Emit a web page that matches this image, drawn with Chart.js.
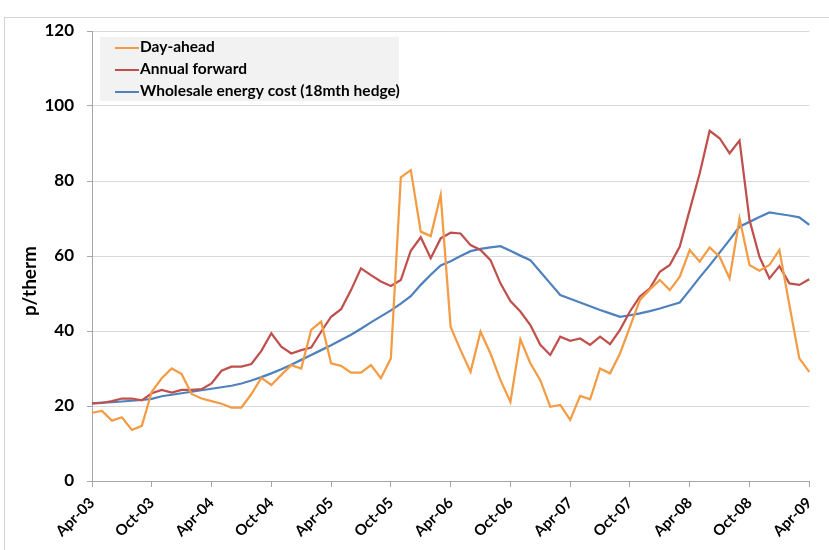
<!DOCTYPE html>
<html>
<head>
<meta charset="utf-8">
<script src="https://cdn.jsdelivr.net/npm/chart.js@4.4.1/dist/chart.umd.min.js"></script>
<style>
  html, body { margin: 0; padding: 0; background: #fff; }
  #wrap { position: relative; width: 829px; height: 550px; }
</style>
</head>
<body>
<div id="wrap"><canvas id="chart" width="829" height="550"></canvas></div>
<script>
// monthly categories, Apr-03 .. Apr-09
const months = [
  'Apr-03','May-03','Jun-03','Jul-03','Aug-03','Sep-03','Oct-03','Nov-03','Dec-03','Jan-04','Feb-04','Mar-04',
  'Apr-04','May-04','Jun-04','Jul-04','Aug-04','Sep-04','Oct-04','Nov-04','Dec-04','Jan-05','Feb-05','Mar-05',
  'Apr-05','May-05','Jun-05','Jul-05','Aug-05','Sep-05','Oct-05','Nov-05','Dec-05','Jan-06','Feb-06','Mar-06',
  'Apr-06','May-06','Jun-06','Jul-06','Aug-06','Sep-06','Oct-06','Nov-06','Dec-06','Jan-07','Feb-07','Mar-07',
  'Apr-07','May-07','Jun-07','Jul-07','Aug-07','Sep-07','Oct-07','Nov-07','Dec-07','Jan-08','Feb-08','Mar-08',
  'Apr-08','May-08','Jun-08','Jul-08','Aug-08','Sep-08','Oct-08','Nov-08','Dec-08','Jan-09','Feb-09','Mar-09',
  'Apr-09'
];

const dayAhead = [
  18.2, 18.7, 16.1, 17.0, 13.6, 14.7, 23.8, 27.4, 30.0, 28.5, 23.2, 22.0,
  21.3, 20.6, 19.6, 19.6, 23.2, 27.5, 25.6, 28.3, 30.9, 30.0, 40.3, 42.5,
  31.4, 30.7, 28.9, 28.9, 30.9, 27.4, 32.7, 81.0, 82.9, 66.5, 65.3, 76.3,
  41.1, 34.9, 29.1, 39.8, 34.0, 26.9, 21.1, 37.8, 31.4, 26.9, 19.8, 20.3,
  16.3, 22.7, 21.8, 30.0, 28.7, 34.0, 41.1, 48.3, 51.1, 53.6, 50.9, 54.5,
  61.6, 58.5, 62.3, 59.8, 54.0, 70.0, 57.6, 56.1, 57.6, 61.6, 47.0, 32.7,
  29.1
];

const annualForward = [
  20.7, 20.8, 21.3, 22.0, 22.0, 21.5, 23.4, 24.3, 23.6, 24.3, 24.3, 24.5,
  26.0, 29.4, 30.5, 30.5, 31.2, 34.7, 39.4, 35.8, 34.0, 34.9, 35.6, 39.8,
  43.8, 45.8, 50.9, 56.7, 54.9, 53.2, 52.0, 53.6, 61.4, 65.0, 59.4, 64.7,
  66.2, 66.0, 62.9, 61.6, 58.9, 52.7, 48.0, 45.2, 41.6, 36.3, 33.6, 38.5,
  37.4, 38.0, 36.3, 38.5, 36.5, 40.3, 45.2, 49.2, 51.4, 55.8, 57.6, 62.5,
  72.3, 82.0, 93.4, 91.4, 87.4, 90.8, 69.6, 59.8, 54.0, 57.3, 52.7, 52.3,
  53.8
];

const wholesaleCost = [
  20.7, 20.9, 21.0, 21.2, 21.4, 21.6, 21.9, 22.6, 23.0, 23.4, 23.8, 24.2,
  24.6, 25.0, 25.4, 26.0, 26.8, 27.7, 28.7, 29.8, 31.0, 32.3, 33.6, 34.9,
  36.2, 37.6, 39.0, 40.6, 42.3, 43.9, 45.5, 47.3, 49.3, 52.3, 55.0, 57.5,
  58.6, 60.0, 61.3, 61.9, 62.3, 62.6, 61.4, 60.1, 58.9, 55.8, 52.7, 49.6,
  48.6, 47.6, 46.6, 45.6, 44.7, 43.8, 44.2, 44.7, 45.3, 46.0, 46.8, 47.6,
  50.9, 54.3, 57.5, 60.9, 64.3, 67.8, 69.1, 70.4, 71.6, 71.2, 70.8, 70.3,
  68.3
];

const yTicks = [0, 20, 40, 60, 80, 100, 120];
const seriesNames = ['Day-ahead', 'Annual forward', 'Wholesale energy cost (18mth hedge)'];
const seriesColors = ['#F39C45', '#C0504D', '#4F81BD'];
const yTitle = 'p/therm';

Chart.defaults.font.family = 'Lato, "Open Sans", sans-serif';
Chart.defaults.color = '#000';

// outer frame, axis title and the boxed legend inside the plot
const decorations = {
  id: 'decorations',
  beforeDraw(chart) {
    const ctx = chart.ctx;
    ctx.save();
    ctx.strokeStyle = '#d4d4d4';
    ctx.lineWidth = 1;
    ctx.strokeRect(4.5, 17.5, 840, 540);
    ctx.restore();
  },
  afterDraw(chart) {
    const ctx = chart.ctx;
    ctx.save();
    // y axis title
    ctx.translate(30, 281);
    ctx.rotate(-Math.PI / 2);
    ctx.font = 'bold 19px Lato, "Open Sans", sans-serif';
    ctx.fillStyle = '#000';
    ctx.textAlign = 'center';
    ctx.textBaseline = 'middle';
    ctx.fillText(yTitle, 0, 0);
    ctx.restore();

    // legend
    ctx.save();
    ctx.fillStyle = '#f2f2f2';
    ctx.fillRect(100, 37, 299, 64);
    ctx.font = 'bold 15.5px Lato, "Open Sans", sans-serif';
    ctx.textBaseline = 'middle';
    chart.data.datasets.forEach((ds, i) => {
      const y = 47 + i * 22;
      ctx.strokeStyle = ds.borderColor;
      ctx.lineWidth = 2;
      ctx.beginPath();
      ctx.moveTo(115, y + 1);
      ctx.lineTo(139, y + 1);
      ctx.stroke();
      ctx.fillStyle = '#000';
      ctx.fillText(ds.label, 140, y);
    });
    ctx.restore();
  }
};

const datasets = [dayAhead, annualForward, wholesaleCost].map((vals, i) => ({
  label: seriesNames[i],
  data: vals,
  borderColor: seriesColors[i],
  backgroundColor: seriesColors[i],
  borderWidth: 2.25,
  pointRadius: 0,
  tension: 0,
  fill: false
}));

new Chart(document.getElementById('chart'), {
  type: 'line',
  data: { labels: months, datasets: datasets },
  options: {
    responsive: false,
    animation: false,
    devicePixelRatio: 1,
    layout: { padding: { top: 31, right: 13, left: 0, bottom: 0 } },
    plugins: { legend: { display: false }, tooltip: { enabled: false } },
    scales: {
      x: {
        type: 'category',
        offset: false,
        grid: { drawOnChartArea: false, drawTicks: true, tickLength: 6, color: '#a6a6a6' },
        border: { color: '#a6a6a6' },
        ticks: {
          autoSkip: false,
          maxRotation: 45,
          minRotation: 45,
          padding: 7,
          color: '#000',
          font: { size: 15, weight: 'bold' },
          callback: function(v, i) {
            return i % 6 === 0 ? this.getLabelForValue(v) : null;
          }
        },
        afterFit: (scale) => { scale.height = 69; }
      },
      y: {
        min: 0,
        max: 120,
        afterBuildTicks: (scale) => { scale.ticks = yTicks.map(v => ({ value: v })); },
        grid: { color: '#d9d9d9', tickLength: 5, tickColor: '#a6a6a6' },
        border: { color: '#a6a6a6' },
        ticks: { padding: 13, color: '#000', font: { size: 17, weight: 'bold' } },
        afterFit: (scale) => { scale.width = 92; }
      }
    }
  },
  plugins: [decorations]
});
</script>
</body>
</html>
